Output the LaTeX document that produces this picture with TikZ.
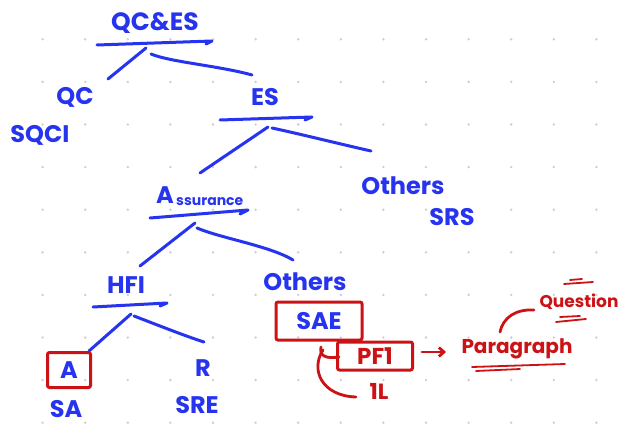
\documentclass[tikz,border=0pt]{standalone}
\usepackage{fontspec}
\usetikzlibrary{arrows.meta}
\setmainfont{Poppins}[UprightFont=* Bold]
\begin{document}
\definecolor{ink}{RGB}{38,52,240}
\definecolor{redink}{RGB}{205,18,22}
\definecolor{dotgray}{RGB}{205,205,205}
\begin{tikzpicture}[x=1pt,y=-1pt,
  bluetxt/.style={text=ink,inner sep=0pt,font=\fontsize{24}{24}\selectfont},
  redtxt/.style={text=redink,inner sep=0pt,font=\fontsize{20}{20}\selectfont},
  stroke/.style={draw=ink,line width=3pt,line cap=round,line join=round},
  redstroke/.style={draw=redink,line width=2.8pt,line cap=round,line join=round},
  redbox/.style={draw=redink,line width=3pt,rounded corners=2pt,inner sep=0pt}]
\useasboundingbox[fill=white] (0,0) rectangle (628,430);
% dotted grid paper
\foreach \i in {1,...,14}{
  \foreach \j in {1,...,10}{
    \fill[dotgray] ({42.6*\i},{-3.3+42.6*\j}) circle (1.3pt);
  }
}
% ---- blue tree ----
\node[bluetxt,font=\fontsize{25}{25}\selectfont] (qces) at (155,23) {QC\&ES};
\coordinate (qcesL) at (97,45);
\coordinate (qcesR) at (212,41);
\draw[stroke] (qcesL) -- (qcesR) -- (206,44);
\coordinate (b1) at (146,48);
\coordinate (b2) at (151,54);
\coordinate (qcend) at (108,79);
\coordinate (esend) at (252,75);
\draw[stroke] (b1) -- (qcend);
\draw[stroke] (b2) .. controls (170,62) and (220,66) .. (esend);

\node[bluetxt] (qc) at (75,97) {QC};
\node[bluetxt] (sqci) at (40,135) {SQCI};
\node[bluetxt] (es) at (265,97) {ES};
\coordinate (esL) at (220,120);
\coordinate (esR) at (312,117);
\draw[stroke] (esL) -- (esR) -- (305,120);
\coordinate (b3) at (268,127);
\coordinate (b4) at (272,128);
\coordinate (asend) at (200,173);
\coordinate (othend) at (371,151);
\draw[stroke] (b3) -- (asend);
\draw[stroke] (b4) .. controls (300,134) and (340,144) .. (othend);

\node[bluetxt] (oth1) at (403,186) {Others};
\node[bluetxt] (srs) at (452,217) {SRS};

\node[bluetxt,anchor=base west] (asA) at (156,204) {A};
\node[bluetxt,anchor=base west,font=\fontsize{14}{14}\selectfont] (asr) at (176,205) {ssurance};
\coordinate (asL) at (150,218);
\coordinate (asR) at (248,210);
\draw[stroke] (asL) -- (asR) -- (240,214);
\coordinate (b5) at (195,223);
\coordinate (b6) at (197,228);
\coordinate (hfiend) at (140,266);
\coordinate (oth2end) at (293,260);
\draw[stroke] (b5) -- (hfiend);
\draw[stroke] (b6) .. controls (220,238) and (270,246) .. (oth2end);

\node[bluetxt] (hfi) at (126,285) {HFI};
\node[bluetxt] (oth2) at (305,282) {Others};
\coordinate (hfL) at (93,307);
\coordinate (hfR) at (167,303);
\draw[stroke] (hfL) -- (hfR) -- (160,306);
\coordinate (b7) at (131,314);
\coordinate (b8) at (134,316);
\coordinate (aend) at (89,351);
\coordinate (rend) at (204,342);
\draw[stroke] (b7) -- (aend);
\draw[stroke] (b8) .. controls (155,324) and (185,336) .. (rend);

\node[redbox,minimum width=43pt,minimum height=35pt] (abox) at (69,370) {};
\node[bluetxt] (a) at (abox) {A};
\node[bluetxt] (sa) at (66,409) {SA};
\node[bluetxt] (r) at (203,368) {R};
\node[bluetxt] (sre) at (197,405) {SRE};

% ---- red annotations ----
\node[redbox,minimum width=86pt,minimum height=38pt] (saebox) at (319,321) {};
\node[bluetxt] (sae) at (saebox) {SAE};
\node[redbox,minimum width=75pt,minimum height=28pt] (pfbox) at (375,356) {};
\node[redtxt,font=\fontsize{23}{23}\selectfont] (pf) at (pfbox) {PF1};
\coordinate (hk1) at (321,347);
\coordinate (hk2) at (339,357);
\draw[redstroke] (hk1) .. controls (319,356) and (326,359) .. (hk2);
\coordinate (arc1) at (323,350);
\coordinate (arc2) at (356,397);
\draw[redstroke] (arc1) .. controls (310,370) and (322,396) .. (arc2);
\node[redtxt,font=\fontsize{22}{22}\selectfont] (il) at (379,391) {1L};

\node[redtxt] (para) at (517,349) {Paragraph};
\draw[redstroke,-{Straight Barb[length=5pt,width=9pt]}] (pfbox.east) ++(8,-4) -- ++(24,0);
\draw[redstroke,line width=1.8pt] (472,367) -- (565,364);
\draw[redstroke,line width=1.8pt] (476,371) -- (520,369);

\node[redtxt,font=\fontsize{17}{17}\selectfont] (quest) at (579,302) {Question};
\draw[redstroke] (500,332) .. controls (503,318) and (515,309) .. (534,310);
\draw[redstroke,line width=1.8pt] (556,322) -- (586,319);
\draw[redstroke,line width=1.8pt] (560,317) -- (580,316);
\draw[redstroke,line width=1.8pt] (564,284) -- (593,282);
\draw[redstroke,line width=1.8pt] (570,280) -- (582,279);
\end{tikzpicture}
\end{document}
